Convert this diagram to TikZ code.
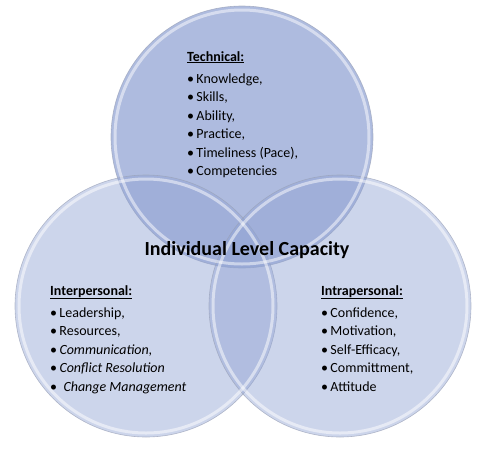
\documentclass[tikz,border=0pt]{standalone}
\usepackage{fontspec}
\setmainfont{Carlito}
\usepackage{tikz}
\definecolor{vblue}{HTML}{8FA1D2}
\definecolor{rimgray}{HTML}{9AA2B8}

\begin{document}
\begin{tikzpicture}[x=1pt,y=-1pt,
  venn/.style={circle,minimum size=262pt,inner sep=0pt,fill=vblue,draw=rimgray,line width=.6pt,draw opacity=.7},
  rim/.style={white,line width=3pt,opacity=.5},
  items/.style={align=left,inner sep=0pt,anchor=north west,font=\fontsize{14}{18.5}\selectfont}]
  \useasboundingbox (0,0) rectangle (480,448);
  \node[venn,fill opacity=.72] (tech) at (242,137) {};
  \node[venn,fill opacity=.45] (inter) at (146,306) {};
  \node[venn,fill opacity=.45] (intra) at (340,306) {};
  \foreach \c in {tech,inter,intra}
    \draw[rim] (\c.center) circle[radius=127pt];
  \node[items] (techlist) at (187,51) {\underline{\textbf{Technical:}}\\[3.5pt]
    \textbullet\,Knowledge,\\ \textbullet\,Skills,\\ \textbullet\,Ability,\\
    \textbullet\,Practice,\\ \textbullet\,Timeliness (Pace),\\ \textbullet\,Competencies};
  \node[items] (interlist) at (50,285) {\underline{\textbf{Interpersonal:}}\\[3.5pt]
    \textbullet\,Leadership,\\ \textbullet\,Resources,\\ \textbullet\,\textit{Communication,}\\
    \textbullet\,\textit{Conflict Resolution}\\ \textbullet\ \ \textit{Change Management}};
  \node[items] (intralist) at (321,285) {\underline{\textbf{Intrapersonal:}}\\[3.5pt]
    \textbullet\,Confidence,\\ \textbullet\,Motivation,\\ \textbullet\,Self-Efficacy,\\
    \textbullet\,Committment,\\ \textbullet\,Attitude};
  \node[font=\bfseries\fontsize{20}{24}\selectfont] (title) at (247,250) {Individual Level Capacity};
\end{tikzpicture}
\end{document}
